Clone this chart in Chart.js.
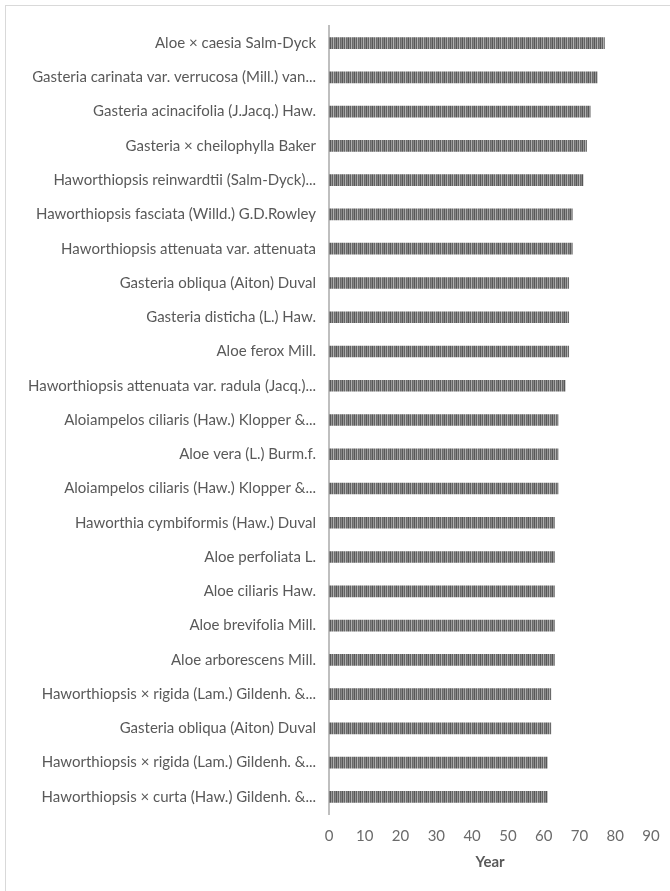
<!DOCTYPE html>
<html lang="en">
<head>
    <meta charset="UTF-8">
    <title>Year by species</title>
    <script src="https://cdn.jsdelivr.net/npm/chart.js"></script>
    <style>
        html, body { margin: 0; padding: 0; background: #fff; overflow: hidden; }
        .frame {
            position: absolute;
            left: 5px; top: 5px;
            width: 700px; height: 920px;
            border: 1px solid #d9d9d9;
        }
        .chart-box {
            position: absolute;
            left: 0; top: 0;
            width: 670px; height: 891px;
        }
    </style>
</head>
<body>
    <div class="frame"></div>
    <div class="chart-box">
        <canvas id="yearChart"></canvas>
    </div>

    <script>
        // Species names, top to bottom
        const species = [
            'Aloe × caesia Salm-Dyck',
            'Gasteria carinata var. verrucosa (Mill.) van...',
            'Gasteria acinacifolia (J.Jacq.) Haw.',
            'Gasteria × cheilophylla Baker',
            'Haworthiopsis reinwardtii (Salm-Dyck)...',
            'Haworthiopsis fasciata (Willd.) G.D.Rowley',
            'Haworthiopsis attenuata var. attenuata',
            'Gasteria obliqua (Aiton) Duval',
            'Gasteria disticha (L.) Haw.',
            'Aloe ferox Mill.',
            'Haworthiopsis attenuata var. radula (Jacq.)...',
            'Aloiampelos ciliaris (Haw.) Klopper &...',
            'Aloe vera (L.) Burm.f.',
            'Aloiampelos ciliaris (Haw.) Klopper &...',
            'Haworthia cymbiformis (Haw.) Duval',
            'Aloe perfoliata L.',
            'Aloe ciliaris Haw.',
            'Aloe brevifolia Mill.',
            'Aloe arborescens Mill.',
            'Haworthiopsis × rigida (Lam.) Gildenh. &...',
            'Gasteria obliqua (Aiton) Duval',
            'Haworthiopsis × rigida (Lam.) Gildenh. &...',
            'Haworthiopsis × curta (Haw.) Gildenh. &...'
        ];

        const years = [77, 75, 73, 72, 71, 68, 68, 67, 67, 67, 66, 64, 64, 64, 63, 63, 63, 63, 63, 62, 62, 61, 61];

        const xTicks = [0, 10, 20, 30, 40, 50, 60, 70, 80, 90];

        // vertical stripe fill for the bars
        function stripeFill() {
            const shades = ['#575757', '#969696', '#626262', '#b0b0b0', '#6a6a6a', '#858585'];
            const c = document.createElement('canvas');
            c.width = shades.length;
            c.height = 4;
            const g = c.getContext('2d');
            shades.forEach((s, i) => {
                g.fillStyle = s;
                g.fillRect(i, 0, 1, 4);
            });
            return g.createPattern(c, 'repeat');
        }

        const fontFamily = 'Lato, "Liberation Sans", sans-serif';

        new Chart(document.getElementById('yearChart'), {
            type: 'bar',
            data: {
                labels: species,
                datasets: [{
                    label: 'Year',
                    data: years,
                    backgroundColor: stripeFill(),
                    borderWidth: 0,
                    barThickness: 11
                }]
            },
            options: {
                indexAxis: 'y',
                responsive: true,
                maintainAspectRatio: false,
                animation: false,
                layout: {
                    padding: { top: 26, right: 19, bottom: 14, left: 0 }
                },
                plugins: {
                    legend: { display: false },
                    tooltip: { enabled: false }
                },
                scales: {
                    x: {
                        min: xTicks[0],
                        max: xTicks[xTicks.length - 1],
                        afterBuildTicks: axis => {
                            axis.ticks = xTicks.map(v => ({ value: v }));
                        },
                        afterFit: axis => { axis.height = 63; },
                        grid: { display: false },
                        border: { display: false },
                        ticks: {
                            color: '#6b6b6b',
                            font: { family: fontFamily, size: 15 },
                            padding: 5,
                            maxRotation: 0
                        },
                        title: {
                            display: true,
                            text: 'Year',
                            color: '#595959',
                            font: { family: fontFamily, size: 15, weight: 'bold' },
                            padding: { top: 4, bottom: 6 }
                        }
                    },
                    y: {
                        afterFit: axis => { axis.width = 329; },
                        grid: { display: false, drawTicks: false },
                        border: { display: true, color: '#bfbfbf', width: 2 },
                        ticks: {
                            color: '#595959',
                            font: { family: fontFamily, size: 15 },
                            padding: 13,
                            autoSkip: false
                        }
                    }
                }
            }
        });
    </script>
</body>
</html>
